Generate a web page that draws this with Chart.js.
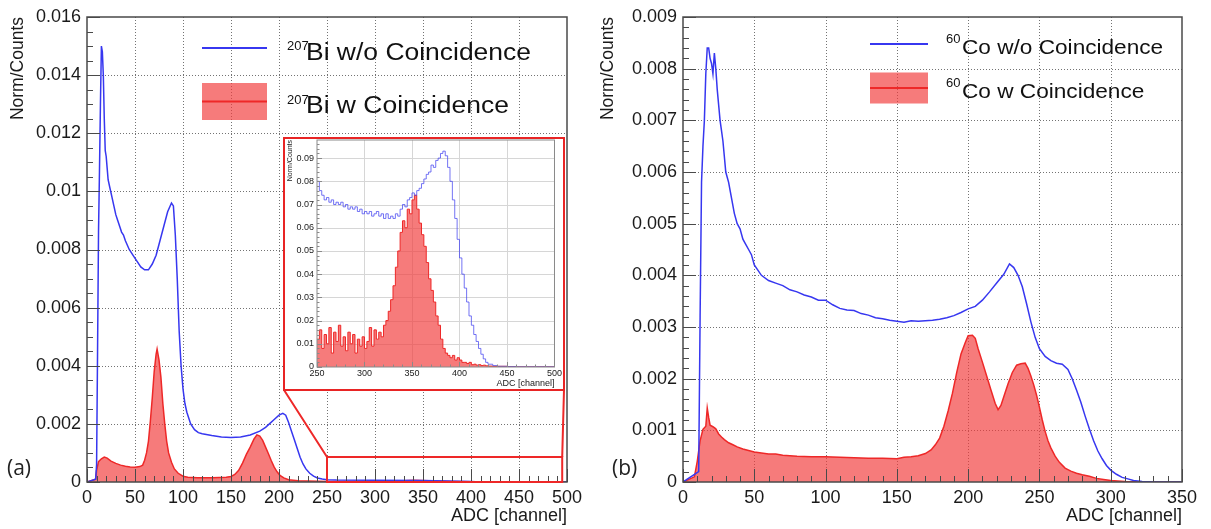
<!DOCTYPE html>
<html>
<head>
<meta charset="utf-8">
<script src="https://cdn.jsdelivr.net/npm/chart.js@4.4.1/dist/chart.umd.min.js"></script>
<style>
  body { margin: 0; background: #fff; }
  #page { position: relative; width: 1211px; height: 529px; overflow: hidden; background: #fff; }
  .panel { position: absolute; top: 0; height: 529px; }
  #left { left: 0; width: 590px; }
  #right { left: 590px; width: 621px; }
  #inset { position: absolute; left: 283px; top: 137px; width: 282px; height: 254px;
           border: 2px solid #e82424; box-sizing: border-box; background: #fff; }
  .tag { position: absolute; top: 453px; font-family: "Open Sans", sans-serif; font-size: 21px; color: #222; }
</style>
</head>
<body>
<div id="page">
  <div class="panel" id="left"><canvas id="chartBi"></canvas></div>
  <div class="panel" id="right"><canvas id="chartCo"></canvas></div>
  <div id="inset"><canvas id="chartInset"></canvas></div>
  <div class="tag" style="left:7px">(a)</div>
  <div class="tag" style="left:612px">(b)</div>
</div>
<script>
// ── data (ADC channel, normalised counts) ──────────────────

const biNoCoinAdc = [0, 9, 10, 11, 12, 13, 14, 15, 16, 17, 18, 19, 20, 21, 22, 24, 26, 28, 30, 32,
  34, 36, 38, 40, 44, 48, 52, 56, 60, 64, 68, 72, 76, 80, 84, 88, 90, 92, 94, 96,
  98, 100, 102, 104, 108, 112, 116, 120, 130, 140, 150, 160, 170, 180, 186, 190, 195, 200, 204, 207,
  210, 213, 216, 219, 222, 225, 228, 232, 236, 240, 245, 250, 260, 300, 350, 400, 410, 500];
const biNoCoin = [0, 0.0001, 0.0006, 0.0045, 0.0086, 0.0107, 0.0130, 0.0150, 0.0148, 0.0140, 0.0125, 0.0114, 0.0112, 0.0108, 0.0104, 0.0101, 0.0098, 0.0095, 0.0092, 0.0090,
  0.0088, 0.0086, 0.0085, 0.0083, 0.0080, 0.0078, 0.0076, 0.0074, 0.0073, 0.0073, 0.0075, 0.0078, 0.0083, 0.0088, 0.0093, 0.0096, 0.0095, 0.0085, 0.0070, 0.0052,
  0.0040, 0.0032, 0.0027, 0.0024, 0.0020, 0.0018, 0.0017, 0.00166, 0.0016, 0.00155, 0.00153, 0.00155, 0.00162, 0.00175, 0.00188, 0.0020, 0.00215, 0.0023, 0.00236, 0.0023,
  0.00205, 0.00175, 0.00145, 0.00115, 0.00085, 0.00062, 0.00045, 0.0003, 0.0002, 0.00014, 0.0001, 0.00008, 0.00007, 0.00006, 0.00005, 0.00002, 0, 0];

const biCoinAdc = [0, 9, 10, 12, 15, 18, 21, 25, 30, 35, 40, 45, 50, 55, 58, 60, 62, 64, 66, 68,
  70, 72, 73, 75, 77, 79, 81, 83, 85, 88, 91, 95, 100, 105, 115, 130, 145, 150, 154, 158,
  162, 166, 170, 174, 177, 180, 183, 186, 189, 192, 195, 198, 201, 205, 210, 220, 250, 320, 340, 380, 420, 500];
const biCoin = [0, 0.0001, 0.0004, 0.0007, 0.0008, 0.00086, 0.00082, 0.00072, 0.00064, 0.00058, 0.00054, 0.00052, 0.00051, 0.00053, 0.00058, 0.00075, 0.001, 0.0014, 0.0021, 0.0029,
  0.0038, 0.0044, 0.00457, 0.0042, 0.0036, 0.0027, 0.002, 0.0014, 0.001, 0.00068, 0.00045, 0.0003, 0.0002, 0.00016, 0.00015, 0.00015, 0.00016, 0.00019, 0.00026, 0.0004,
  0.00065, 0.00095, 0.0012, 0.00148, 0.00162, 0.00158, 0.00143, 0.0012, 0.00097, 0.00073, 0.00051, 0.00035, 0.00023, 0.00014, 0.00008, 0.00004, 0.00002, 0.00003, 0.00006, 0.00002, 0, 0];

const insetAdc = [250, 252.5, 255, 257.5, 260, 262.5, 265, 267.5, 270, 272.5, 275, 277.5, 280, 282.5, 285, 287.5, 290, 292.5, 295, 297.5,
  300, 302.5, 305, 307.5, 310, 312.5, 315, 317.5, 320, 322.5, 325, 327.5, 330, 332.5, 335, 337.5, 340, 342.5, 345, 347.5,
  350, 352.5, 355, 357.5, 360, 362.5, 365, 367.5, 370, 372.5, 375, 377.5, 380, 382.5, 385, 387.5, 390, 392.5, 395, 397.5,
  400, 402.5, 405, 407.5, 410, 412.5, 415, 417.5, 420, 422.5, 425, 427.5, 430, 435, 440, 450, 460, 480, 500];
const insetNoCoin = [0.080, 0.076, 0.074, 0.072, 0.073, 0.071, 0.072, 0.070, 0.071, 0.070, 0.071, 0.069, 0.070, 0.068, 0.069, 0.068, 0.069, 0.067, 0.068, 0.066,
  0.067, 0.066, 0.067, 0.065, 0.066, 0.067, 0.065, 0.066, 0.064, 0.066, 0.064, 0.065, 0.064, 0.066, 0.065, 0.068, 0.070, 0.069, 0.072, 0.073,
  0.075, 0.074, 0.076, 0.077, 0.079, 0.081, 0.083, 0.084, 0.087, 0.086, 0.089, 0.090, 0.092, 0.093, 0.091, 0.086, 0.080, 0.072, 0.064, 0.055,
  0.047, 0.040, 0.034, 0.028, 0.022, 0.018, 0.014, 0.011, 0.008, 0.0055, 0.0035, 0.002, 0.0012, 0.0006, 0.0003, 0.0002, 0.0001, 0.0001, 0];
const insetCoin = [0.012, 0.016, 0.008, 0.014, 0.010, 0.017, 0.006, 0.015, 0.011, 0.018, 0.009, 0.013, 0.007, 0.015, 0.010, 0.014, 0.006, 0.012, 0.009, 0.013,
  0.008, 0.011, 0.017, 0.009, 0.016, 0.012, 0.015, 0.013, 0.018, 0.020, 0.024, 0.029, 0.035, 0.043, 0.050, 0.058, 0.063, 0.060, 0.068, 0.066,
  0.072, 0.074, 0.068, 0.062, 0.057, 0.052, 0.045, 0.038, 0.033, 0.028, 0.022, 0.018, 0.012, 0.008, 0.006, 0.005, 0.004, 0.005, 0.003, 0.004,
  0.003, 0.002, 0.002, 0.0015, 0.002, 0.001, 0.0012, 0.0008, 0.001, 0.0006, 0.0008, 0.0005, 0.0004, 0.0003, 0.0003, 0.0002, 0.0001, 0.0001, 0];

const coNoCoinAdc = [0, 11, 12, 13, 14, 15, 16, 17, 18, 19, 20, 21, 22, 23, 24, 25, 26, 27, 28, 29,
  30, 32, 34, 36, 38, 40, 42, 44, 46, 48, 50, 55, 60, 65, 70, 75, 80, 85, 90, 95,
  100, 105, 110, 115, 120, 125, 130, 135, 140, 145, 150, 155, 160, 165, 170, 175, 180, 185, 190, 195,
  200, 205, 210, 215, 220, 225, 229, 232, 235, 238, 241, 244, 247, 250, 254, 258, 262, 266, 270, 273,
  276, 279, 282, 285, 288, 291, 294, 297, 300, 304, 308, 312, 316, 322, 330, 350];
const coNoCoin = [0, 0.0002, 0.0032, 0.0058, 0.0065, 0.007, 0.0079, 0.0084, 0.0084, 0.0082, 0.0081, 0.0079, 0.0083, 0.008, 0.0076, 0.0073, 0.007, 0.0068, 0.0066, 0.0063,
  0.006, 0.0058, 0.0055, 0.0052, 0.005, 0.0049, 0.0047, 0.0046, 0.0045, 0.0044, 0.0042, 0.004, 0.0039, 0.00385, 0.0038, 0.00372, 0.00368, 0.00362, 0.00358, 0.00352,
  0.00352, 0.00343, 0.00336, 0.00333, 0.00332, 0.00326, 0.00323, 0.00318, 0.00316, 0.00313, 0.00311, 0.00309, 0.00312, 0.00311, 0.00312, 0.00313, 0.00315, 0.00318, 0.00322, 0.00328,
  0.00335, 0.0034, 0.00352, 0.00368, 0.00385, 0.00402, 0.00422, 0.00415, 0.004, 0.00378, 0.00345, 0.0031, 0.0028, 0.00258, 0.00243, 0.00235, 0.0023, 0.00228, 0.00218, 0.002,
  0.00178, 0.00155, 0.00128, 0.00103, 0.0008, 0.0006, 0.00045, 0.00032, 0.00023, 0.00015, 0.00009, 0.00006, 0.00003, 0.00001, 0, 0];

const coCoinAdc = [0, 8, 10, 12, 14, 16, 17, 18, 19, 21, 23, 25, 27, 29, 32, 35, 38, 42, 46, 50,
  55, 60, 65, 70, 75, 80, 90, 100, 110, 120, 130, 140, 150, 155, 160, 165, 170, 174, 177, 180,
  183, 186, 189, 192, 195, 198, 200, 203, 205, 207, 210, 213, 216, 219, 221, 223, 225, 228, 231, 234,
  237, 240, 242, 244, 246, 248, 250, 252, 254, 256, 258, 261, 264, 268, 272, 276, 280, 285, 290, 295,
  300, 310, 320, 350];
const coCoin = [0, 0.0001, 0.0004, 0.0008, 0.00102, 0.00108, 0.00143, 0.00125, 0.0011, 0.00107, 0.00103, 0.00093, 0.00087, 0.00082, 0.00076, 0.00072, 0.00068, 0.00064, 0.00061, 0.00058,
  0.00056, 0.00054, 0.00054, 0.00052, 0.00051, 0.0005, 0.00049, 0.00049, 0.00048, 0.00047, 0.00046, 0.00046, 0.00045, 0.00048, 0.00049, 0.00051, 0.00055, 0.00062, 0.00072, 0.00085,
  0.00108, 0.00138, 0.00172, 0.00212, 0.00248, 0.0027, 0.00283, 0.00284, 0.00278, 0.00258, 0.00232, 0.00205, 0.00178, 0.00152, 0.0014, 0.00148, 0.00165, 0.0019, 0.00212, 0.00226,
  0.00229, 0.0023, 0.0022, 0.00205, 0.00188, 0.00168, 0.00145, 0.0012, 0.00098, 0.0008, 0.00066, 0.0005, 0.00038, 0.00027, 0.00021, 0.00017, 0.00014, 0.00011, 0.00007, 0.00005,
  0.00003, 0.00001, 0, 0];

const biLegend = ["Bi w/o Coincidence", "Bi w Coincidence"];
const coLegend = ["Co w/o Coincidence", "Co w Coincidence"];
const biMass = "207";
const coMass = "60";

// ── styling ────────────────────────────────────────────────

const FONT = '"Liberation Sans", Arial, sans-serif';
const BLUE = "rgb(55, 55, 240)";
const RED = "rgb(238, 40, 40)";
const RED_FILL = "rgba(242, 60, 60, 0.68)";
const INSET_BOX = { left: 283, top: 137, width: 282, height: 254 };

const toPoints = (xs, ys) => xs.map((x, i) => ({ x, y: ys[i] }));
const yLabel = (v) => (v === 0 ? "0" : String(+v.toFixed(4)));

// frame, inward ticks and grid drawn ROOT-style
const rootFrame = {
  id: "rootFrame",
  beforeDatasetsDraw(chart, args, o) {
    const { ctx, chartArea: a, scales: { x, y } } = chart;
    ctx.save();
    ctx.strokeStyle = o.gridColor;
    ctx.lineWidth = 1;
    ctx.setLineDash(o.gridDash);
    ctx.beginPath();
    x.ticks.forEach((t) => {
      const px = Math.round(x.getPixelForValue(t.value)) + 0.5;
      if (px <= a.left + 1 || px >= a.right - 1) return;
      ctx.moveTo(px, a.top); ctx.lineTo(px, a.bottom);
    });
    y.ticks.forEach((t) => {
      const py = Math.round(y.getPixelForValue(t.value)) + 0.5;
      if (py <= a.top + 1 || py >= a.bottom - 1) return;
      ctx.moveTo(a.left, py); ctx.lineTo(a.right, py);
    });
    ctx.stroke();
    ctx.restore();
  },
  afterDatasetsDraw(chart, args, o) {
    const { ctx, chartArea: a, scales: { x, y } } = chart;
    ctx.save();
    ctx.strokeStyle = o.color;
    ctx.lineWidth = 1;
    ctx.beginPath();
    const nx = Math.round((x.max - x.min) / o.xMinor);
    for (let i = 0; i <= nx; i++) {
      const px = Math.round(x.getPixelForValue(x.min + i * o.xMinor)) + 0.5;
      const len = i % o.xPer === 0 ? o.major : o.minor;
      ctx.moveTo(px, a.bottom); ctx.lineTo(px, a.bottom - len);
    }
    const ny = Math.floor((y.max - y.min) / o.yMinor + 1e-6);
    for (let i = 0; i <= ny; i++) {
      const py = Math.round(y.getPixelForValue(y.min + i * o.yMinor)) + 0.5;
      const len = i % o.yPer === 0 ? o.major : o.minor;
      ctx.moveTo(a.left, py); ctx.lineTo(a.left + len, py);
    }
    ctx.stroke();
    ctx.lineWidth = o.frameWidth;
    ctx.strokeRect(a.left, a.top, a.right - a.left, a.bottom - a.top);
    ctx.restore();
  },
};

// legend with superscript mass numbers
const rootLegend = {
  id: "rootLegend",
  afterDatasetsDraw(chart, args, o) {
    if (!o.rows) return;
    const ctx = chart.ctx;
    const ds = chart.data.datasets;
    ctx.save();
    o.rows.forEach((cy, i) => {
      const d = ds[i];
      if (d.fill) {
        ctx.fillStyle = d.backgroundColor;
        ctx.fillRect(o.symX, cy - o.boxH / 2, o.symW, o.boxH);
      }
      ctx.strokeStyle = d.borderColor;
      ctx.lineWidth = 2;
      ctx.beginPath();
      ctx.moveTo(o.symX, cy); ctx.lineTo(o.symX + o.symW, cy);
      ctx.stroke();
      ctx.fillStyle = "#111";
      ctx.textBaseline = "alphabetic";
      ctx.font = `${o.supSize}px ${FONT}`;
      ctx.fillText(o.sup, o.supX, cy + o.supDy);
      ctx.save();
      ctx.translate(o.textX, cy + o.textDy);
      ctx.scale(o.stretch, 1);
      ctx.font = `${o.textSize}px ${FONT}`;
      ctx.fillText(o.texts[i], 0, 0);
      ctx.restore();
    });
    ctx.restore();
  },
};

// zoom rectangle and connector lines to the inset
const zoomLink = {
  id: "zoomLink",
  afterDatasetsDraw(chart, args, o) {
    if (!o.enabled) return;
    const { ctx, scales: { x, y } } = chart;
    const x0 = x.getPixelForValue(o.from), x1 = x.getPixelForValue(o.to);
    const y0 = y.getPixelForValue(0), y1 = y.getPixelForValue(o.height);
    const bl = INSET_BOX.left + 1, br = INSET_BOX.left + INSET_BOX.width - 1;
    const bb = INSET_BOX.top + INSET_BOX.height - 1;
    ctx.save();
    ctx.strokeStyle = RED;
    ctx.lineWidth = 2;
    ctx.strokeRect(x0, y1, x1 - x0, y0 - y1);
    ctx.beginPath();
    ctx.moveTo(x0, y1); ctx.lineTo(bl, bb);
    ctx.moveTo(x1, y1); ctx.lineTo(br, bb);
    ctx.stroke();
    ctx.restore();
  },
};

function panelOptions(cfg) {
  return {
    animation: false,
    responsive: true,
    maintainAspectRatio: false,
    layout: { padding: { top: cfg.padTop, right: cfg.padRight, left: 0, bottom: 0 } },
    plugins: {
      legend: { display: false },
      tooltip: { enabled: false },
      rootFrame: cfg.frame,
      rootLegend: cfg.legend || {},
      zoomLink: cfg.link || { enabled: false },
    },
    scales: {
      x: {
        type: "linear",
        min: cfg.xMin,
        max: cfg.xMax,
        grid: { display: false, drawTicks: false, tickLength: 0 },
        border: { display: false },
        ticks: {
          stepSize: cfg.xStep, autoSkip: false, maxRotation: 0, padding: cfg.tickPad,
          color: "#1a1a1a", font: { family: FONT, size: cfg.tickSize },
          callback: (v) => String(v),
        },
        title: {
          display: true, text: "ADC [channel]", align: "end", color: "#1a1a1a",
          font: { family: FONT, size: cfg.titleSize }, padding: { top: 0, bottom: cfg.xTitlePad },
        },
        afterFit: (s) => { s.height = cfg.xHeight; },
      },
      y: {
        type: "linear",
        min: 0,
        max: cfg.yMax,
        grid: { display: false, drawTicks: false, tickLength: 0 },
        border: { display: false },
        ticks: {
          stepSize: cfg.yStep, autoSkip: false, padding: cfg.yTickPad, includeBounds: false,
          color: "#1a1a1a", font: { family: FONT, size: cfg.tickSize },
          callback: yLabel,
        },
        title: {
          display: true, text: "Norm/Counts", align: "end", color: "#1a1a1a",
          font: { family: FONT, size: cfg.yTitleSize }, padding: { top: cfg.yTitlePad, bottom: 0 },
        },
        afterFit: (s) => { s.width = cfg.yWidth; s.paddingTop = 0; },
      },
    },
  };
}

function histSets(xsA, ysA, xsB, ysB, lineW, blue, stepped) {
  return [
    {
      label: "no coincidence",
      data: toPoints(xsA, ysA),
      stepped,
      borderColor: blue,
      borderWidth: lineW,
      pointRadius: 0,
      fill: false,
    },
    {
      label: "coincidence",
      data: toPoints(xsB, ysB),
      stepped,
      borderColor: RED,
      backgroundColor: RED_FILL,
      borderWidth: lineW,
      pointRadius: 0,
      fill: "origin",
    },
  ];
}

const mainFrame = (yMinor, yPer) => ({
  color: "#4a4a4a", frameWidth: 1.5, major: 13, minor: 6,
  xMinor: 10, xPer: 5, yMinor, yPer,
  gridColor: "rgba(90, 90, 90, 0.85)", gridDash: [1, 2],
});

new Chart(document.getElementById("chartBi"), {
  type: "line",
  data: { datasets: histSets(biNoCoinAdc, biNoCoin, biCoinAdc, biCoin, 1.5, BLUE, false) },
  options: panelOptions({
    padTop: 17, padRight: 23, xMin: 0, xMax: 500, xStep: 50, yMax: 0.016, yStep: 0.002,
    tickSize: 18, titleSize: 18, yTitleSize: 17.5, tickPad: 5, yTickPad: 6,
    xHeight: 47, xTitlePad: 2, yWidth: 87, yTitlePad: 8,
    frame: mainFrame(0.0005, 4),
    legend: {
      rows: [48, 101.5], symX: 202, symW: 65, boxH: 37,
      sup: biMass, supSize: 13, supX: 287, supDy: 2,
      texts: biLegend, textX: 306, textDy: 11.5, textSize: 23, stretch: 1.15,
    },
    link: { enabled: true, from: 250, to: 495, height: 0.00086 },
  }),
  plugins: [rootFrame, rootLegend, zoomLink],
});

new Chart(document.getElementById("chartCo"), {
  type: "line",
  data: { datasets: histSets(coNoCoinAdc, coNoCoin, coCoinAdc, coCoin, 1.5, BLUE, false) },
  options: panelOptions({
    padTop: 17, padRight: 29, xMin: 0, xMax: 350, xStep: 50, yMax: 0.009, yStep: 0.001,
    tickSize: 18, titleSize: 18, yTitleSize: 17.5, tickPad: 5, yTickPad: 6,
    xHeight: 47, xTitlePad: 2, yWidth: 93, yTitlePad: 8,
    frame: mainFrame(0.0002, 5),
    legend: {
      rows: [44, 88], symX: 280, symW: 58, boxH: 31,
      sup: coMass, supSize: 13, supX: 356, supDy: -1,
      texts: coLegend, textX: 372, textDy: 10, textSize: 19.5, stretch: 1.16,
    },
  }),
  plugins: [rootFrame, rootLegend, zoomLink],
});

new Chart(document.getElementById("chartInset"), {
  type: "line",
  data: { datasets: histSets(insetAdc, insetNoCoin, insetAdc, insetCoin, 1, "rgba(70, 70, 240, 0.75)", true) },
  options: panelOptions({
    padTop: 1, padRight: 8, xMin: 250, xMax: 500, xStep: 50, yMax: 0.0978, yStep: 0.01,
    tickSize: 9, titleSize: 9, yTitleSize: 7, tickPad: 1, yTickPad: 3,
    xHeight: 22, xTitlePad: 0, yWidth: 32, yTitlePad: 1,
    frame: {
      color: "#8a8a8a", frameWidth: 1, major: 5, minor: 2.5,
      xMinor: 10, xPer: 5, yMinor: 0.002, yPer: 5,
      gridColor: "#d6d6d6", gridDash: [],
    },
  }),
  plugins: [rootFrame, rootLegend, zoomLink],
});
</script>
</body>
</html>
